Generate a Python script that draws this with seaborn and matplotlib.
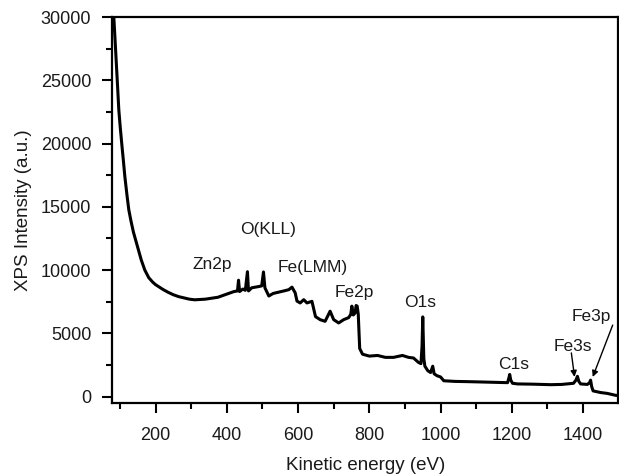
import numpy as np
import pandas as pd
import matplotlib
matplotlib.use("Agg")
import matplotlib.pyplot as plt
from matplotlib.ticker import MultipleLocator
import seaborn as sns

# ---- data ----
energy = [82, 88, 93, 97, 101, 105, 110, 114, 120, 125, 131, 138, 149, 160, 170,
          181, 192, 200, 211, 222, 235, 250, 265, 280, 295, 310,
          340, 375, 400, 420, 430, 433, 436, 445, 452, 458, 461, 470, 480, 490, 498,
          503, 507, 518, 530, 545, 560, 574, 583, 592, 597, 606, 616, 625, 639, 649,
          662, 676, 690, 700, 714, 728, 742, 748, 751, 755, 760, 763, 766, 769, 773,
          781, 800, 823, 845, 868, 893, 910, 924, 938, 945, 948, 950, 953, 956, 964,
          972, 978, 982, 990, 1000, 1009, 1040, 1076, 1120, 1160, 1188, 1192, 1194,
          1197, 1202, 1216, 1260, 1309, 1340, 1373, 1380, 1384, 1388, 1393, 1412,
          1418, 1421, 1424, 1428, 1449, 1468, 1491, 1499]
intensity = [30500, 27400, 24800, 22670, 21300, 20070, 18600, 17380, 15900, 14770,
             13900, 13000, 11900, 10800, 10000, 9400, 9050, 8850, 8650, 8450, 8250,
             8050, 7900, 7800, 7700, 7650, 7700, 7850, 8100, 8300, 8350, 9200, 8300,
             8500, 8400, 9870, 8350, 8600, 8650, 8700, 8750, 9850, 8600, 7950, 8150,
             8250, 8350, 8450, 8650, 8200, 7550, 7400, 7660, 7400, 7530, 6320, 6080,
             5950, 6750, 6080, 5820, 6080, 6240, 6500, 7150, 6450, 6600, 7200, 7150,
             6500, 3800, 3350, 3200, 3250, 3100, 3100, 3250, 3100, 3050, 2700, 2600,
             4000, 6300, 3000, 2400, 2050, 1900, 2400, 1800, 1650, 1550, 1250, 1200,
             1180, 1150, 1120, 1100, 1500, 1750, 1300, 1050, 1000, 980, 940, 960,
             1050, 1300, 1600, 1200, 1000, 960, 1100, 1300, 800, 450, 320, 250, 100, 80]

peak_labels = ["Zn2p", "O(KLL)", "Fe(LMM)", "Fe2p", "O1s", "C1s", "Fe3s", "Fe3p"]

xlabel = "Kinetic energy (eV)"
ylabel = "XPS Intensity (a.u.)"

df = pd.DataFrame({"energy": energy, "intensity": intensity})

# ---- styling ----
sns.set_style("ticks")
plt.rcParams["font.family"] = ["Liberation Sans", "DejaVu Sans"]

fig = plt.figure(figsize=(6.19, 4.74), dpi=100)
ax = fig.add_axes([0.181, 0.150, 0.818, 0.814])

sns.lineplot(data=df, x="energy", y="intensity", ax=ax, color="black",
             linewidth=2.2, sort=False, legend=False)

ax.set_xlim(78, 1499)
ax.set_ylim(-500, 30000)
ax.set_xticks([200, 400, 600, 800, 1000, 1200, 1400])
ax.set_yticks([0, 5000, 10000, 15000, 20000, 25000, 30000])
ax.xaxis.set_minor_locator(MultipleLocator(100))
ax.yaxis.set_minor_locator(MultipleLocator(2500))
ax.tick_params(which="major", direction="out", length=7, width=1.5,
               labelsize=13, pad=8, color="black", labelcolor="#1a1a1a")
ax.tick_params(axis="x", which="major", pad=10)
ax.tick_params(which="minor", direction="out", length=4.5, width=1.5, color="black")

for s in ax.spines.values():
    s.set_visible(True)
    s.set_linewidth(1.6)
    s.set_color("black")

ax.set_xlabel(xlabel, fontsize=13.5, color="#1a1a1a", labelpad=10)
ax.set_ylabel(ylabel, fontsize=13.5, color="#1a1a1a", labelpad=6)

# peak labels (layout positions in data coordinates)
label_pos = {
    "Zn2p": (360, 10430),
    "O(KLL)": (517, 13190),
    "Fe(LMM)": (641, 10190),
    "Fe2p": (758, 8200),
    "O1s": (943, 7420),
    "C1s": (1206, 2530),
    "Fe3s": (1371, 3950),
    "Fe3p": (1423, 6320),
}
for lab in peak_labels:
    x, y = label_pos[lab]
    ax.text(x, y, lab, fontsize=12.5, ha="center", va="center", color="#1a1a1a")

arrow_style = dict(arrowstyle="-|>", color="black", lw=1.0,
                   mutation_scale=9, shrinkA=0, shrinkB=0)
ax.annotate("", xy=(1376, 1550), xytext=(1367, 3450), arrowprops=arrow_style)
ax.annotate("", xy=(1427, 1550), xytext=(1483, 5650), arrowprops=arrow_style)

fig.savefig("out.png", dpi=100)
